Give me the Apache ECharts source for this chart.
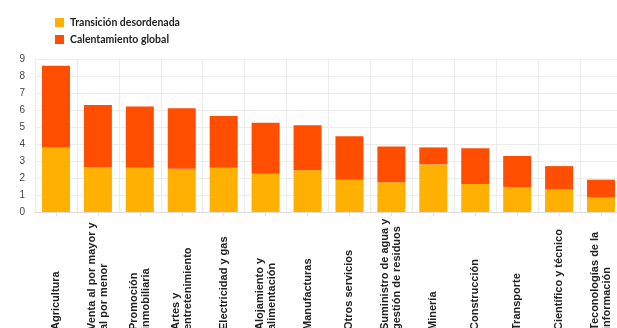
<!DOCTYPE html>
<html>
<head>
<meta charset="utf-8">
<script src="https://cdn.jsdelivr.net/npm/echarts@6/dist/echarts.min.js"></script>
<style>
  html, body { margin: 0; padding: 0; background: #fff; }
  #chart { width: 617px; height: 328px; }
</style>
</head>
<body>
<div id="chart"></div>
<script>
// sectores
const sectores = [
  'Agricultura', 'Venta al por mayor y\nal por menor', 'Promoción\ninmobiliaria',
  'Artes y\nentretenimiento', 'Electricidad y gas', 'Alojamiento y\nalimentación',
  'Manufacturas', 'Otros servicios', 'Suministro de agua y\ngestión de residuos',
  'Minería', 'Construcción', 'Transporte', 'Científico y técnico',
  'Teconologías de la\ninformación'
];
// Transición desordenada
const transicion = [3.8, 2.65, 2.6, 2.55, 2.6, 2.25, 2.45, 1.9, 1.75, 2.8, 1.65, 1.45, 1.35, 0.85];
// Calentamiento global
const calentamiento = [4.8, 3.65, 3.6, 3.55, 3.05, 3.0, 2.65, 2.55, 2.1, 1.0, 2.1, 1.85, 1.35, 1.05];
const yTicks = [0, 9, 1];

const chart = echarts.init(document.getElementById('chart'));

const option = {
  backgroundColor: '#fff',
  animation: false,
  legend: {
    orient: 'vertical',
    left: 50,
    top: 12,
    itemWidth: 9,
    itemHeight: 9,
    itemGap: 6,
    icon: 'rect',
    textStyle: { fontFamily: 'Lato', fontSize: 10.5, fontWeight: 'bold', color: '#222', padding: [0, 0, 0, 1] },
    data: ['Transición desordenada', 'Calentamiento global']
  },
  grid: { left: 35, right: -5, top: 59, bottom: 116, outerBoundsMode: 'none' },
  xAxis: {
    type: 'category',
    data: sectores,
    axisLine: { lineStyle: { color: '#dcdcdc' } },
    axisTick: { show: true, alignWithLabel: true, length: 4, lineStyle: { color: '#e0e0e0' } },
    splitLine: { show: true, interval: 0, lineStyle: { color: '#ececec' } },
    axisLabel: {
      interval: 0,
      rotate: 90,
      align: 'left',
      verticalAlign: 'middle',
      margin: 118,
      fontFamily: 'Liberation Sans',
      fontSize: 11,
      fontWeight: 'bold',
      lineHeight: 12,
      color: '#222'
    }
  },
  yAxis: {
    type: 'value',
    min: yTicks[0],
    max: yTicks[1],
    interval: yTicks[2],
    axisLine: { show: false },
    axisTick: { show: false },
    splitLine: { lineStyle: { color: '#ececec' } },
    axisLabel: { margin: 10, fontFamily: 'Liberation Sans', fontSize: 10, color: '#444' }
  },
  series: [
    {
      name: 'Transición desordenada',
      type: 'bar',
      stack: 'total',
      barWidth: 28,
      itemStyle: { color: '#FFB000' },
      data: transicion
    },
    {
      name: 'Calentamiento global',
      type: 'bar',
      stack: 'total',
      barWidth: 28,
      itemStyle: { color: '#FF4E00' },
      data: calentamiento
    }
  ]
};

chart.setOption(option);
</script>
</body>
</html>
